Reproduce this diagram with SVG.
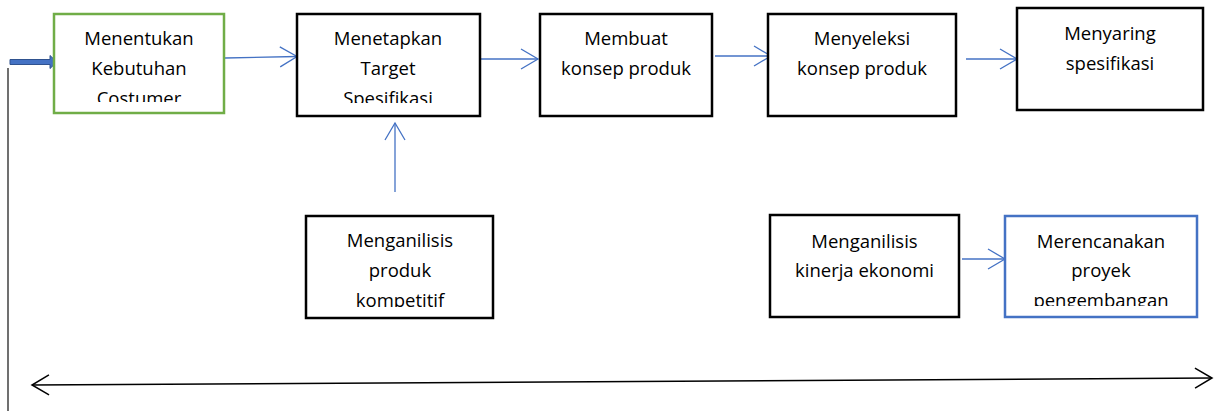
<svg xmlns="http://www.w3.org/2000/svg" width="1219" height="411" viewBox="0 0 1219 411">
  <style>
    .box { fill: #ffffff; stroke: #000000; stroke-width: 2.5; }
    .box-green { fill: #ffffff; stroke: #70AD47; stroke-width: 2.5; }
    .box-blue { fill: #ffffff; stroke: #4472C4; stroke-width: 2.5; }
    .label { font-family: "Open Sans", "Noto Sans", sans-serif; font-size: 18.5px; fill: #000000; text-anchor: middle; }
    .flow { fill: none; stroke: #4472C4; stroke-width: 1.3; }
    .span { fill: none; stroke: #000000; stroke-width: 1.5; }
  </style>
  <defs>
    <marker id="open-blue" markerWidth="20" markerHeight="24" refX="18" refY="11" orient="auto" markerUnits="userSpaceOnUse">
      <path d="M1,1 L18,11 L1,21" fill="none" stroke="#4472C4" stroke-width="1.3"/>
    </marker>
    <marker id="open-black" markerWidth="20" markerHeight="24" refX="18" refY="11" orient="auto-start-reverse" markerUnits="userSpaceOnUse">
      <path d="M1,1 L18,11 L1,21" fill="none" stroke="#000000" stroke-width="1.5"/>
    </marker>
    <clipPath id="clip-n1"><rect x="54" y="14" width="170" height="88"/></clipPath>
    <clipPath id="clip-n2"><rect x="297" y="14" width="183" height="89"/></clipPath>
    <clipPath id="clip-n6"><rect x="306" y="216" width="187" height="91"/></clipPath>
    <clipPath id="clip-n8"><rect x="1005" y="216" width="192" height="90"/></clipPath>
  </defs>

  <!-- connectors -->
  <g id="connectors">
    <line class="flow" x1="225" y1="58" x2="297" y2="56.5" marker-end="url(#open-blue)"/>
    <line class="flow" x1="480" y1="59" x2="538" y2="59" marker-end="url(#open-blue)"/>
    <line class="flow" x1="715" y1="56" x2="771" y2="56" marker-end="url(#open-blue)"/>
    <line class="flow" x1="966" y1="59" x2="1017" y2="59" marker-end="url(#open-blue)"/>
    <line class="flow" x1="395" y1="192" x2="395" y2="123" marker-end="url(#open-blue)"/>
    <line class="flow" x1="962" y1="259" x2="1005" y2="259" marker-end="url(#open-blue)"/>
    <!-- time span across the process -->
    <line class="span" x1="32" y1="385" x2="1212" y2="378" marker-start="url(#open-black)" marker-end="url(#open-black)"/>
    <!-- left return line -->
    <line x1="8" y1="68" x2="8" y2="411" stroke="#404040" stroke-width="1.5"/>
    <!-- entry block arrow -->
    <path d="M10,59.5 L50,59.5 L50,55.5 L57,62 L50,68.5 L50,64.5 L10,64.5 Z" fill="#4472C4" stroke="#2F528F" stroke-width="1"/>
  </g>

  <g id="node-kebutuhan">
    <rect class="box-green" x="54" y="14" width="170" height="99"/>
    <g clip-path="url(#clip-n1)">
      <text class="label" x="139" y="45">Menentukan</text>
      <text class="label" x="139" y="75">Kebutuhan</text>
      <text class="label" x="139" y="105">Costumer</text>
    </g>
  </g>

  <g id="node-target">
    <rect class="box" x="297" y="14" width="183" height="102"/>
    <g clip-path="url(#clip-n2)">
      <text class="label" x="388" y="45">Menetapkan</text>
      <text class="label" x="388" y="75">Target</text>
      <text class="label" x="388" y="105">Spesifikasi</text>
    </g>
  </g>

  <g id="node-konsep">
    <rect class="box" x="540" y="14" width="172" height="102"/>
    <text class="label" x="626" y="45">Membuat</text>
    <text class="label" x="626" y="75">konsep produk</text>
  </g>

  <g id="node-seleksi">
    <rect class="box" x="768" y="14" width="188" height="102"/>
    <text class="label" x="862" y="45">Menyeleksi</text>
    <text class="label" x="862" y="75">konsep produk</text>
  </g>

  <g id="node-saring">
    <rect class="box" x="1017" y="8" width="186" height="102"/>
    <text class="label" x="1110" y="40">Menyaring</text>
    <text class="label" x="1110" y="70">spesifikasi</text>
  </g>

  <g id="node-kompetitif">
    <rect class="box" x="306" y="216" width="187" height="102"/>
    <g clip-path="url(#clip-n6)">
      <text class="label" x="400" y="247">Menganilisis</text>
      <text class="label" x="400" y="277">produk</text>
      <text class="label" x="400" y="307">kompetitif</text>
    </g>
  </g>

  <g id="node-ekonomi">
    <rect class="box" x="770" y="215" width="189" height="102"/>
    <text class="label" x="864.5" y="248">Menganilisis</text>
    <text class="label" x="864.5" y="277">kinerja ekonomi</text>
  </g>

  <g id="node-proyek">
    <rect class="box-blue" x="1005" y="216" width="192" height="101"/>
    <g clip-path="url(#clip-n8)">
      <text class="label" x="1101" y="248">Merencanakan</text>
      <text class="label" x="1101" y="277">proyek</text>
      <text class="label" x="1101" y="307">pengembangan</text>
    </g>
  </g>
</svg>
